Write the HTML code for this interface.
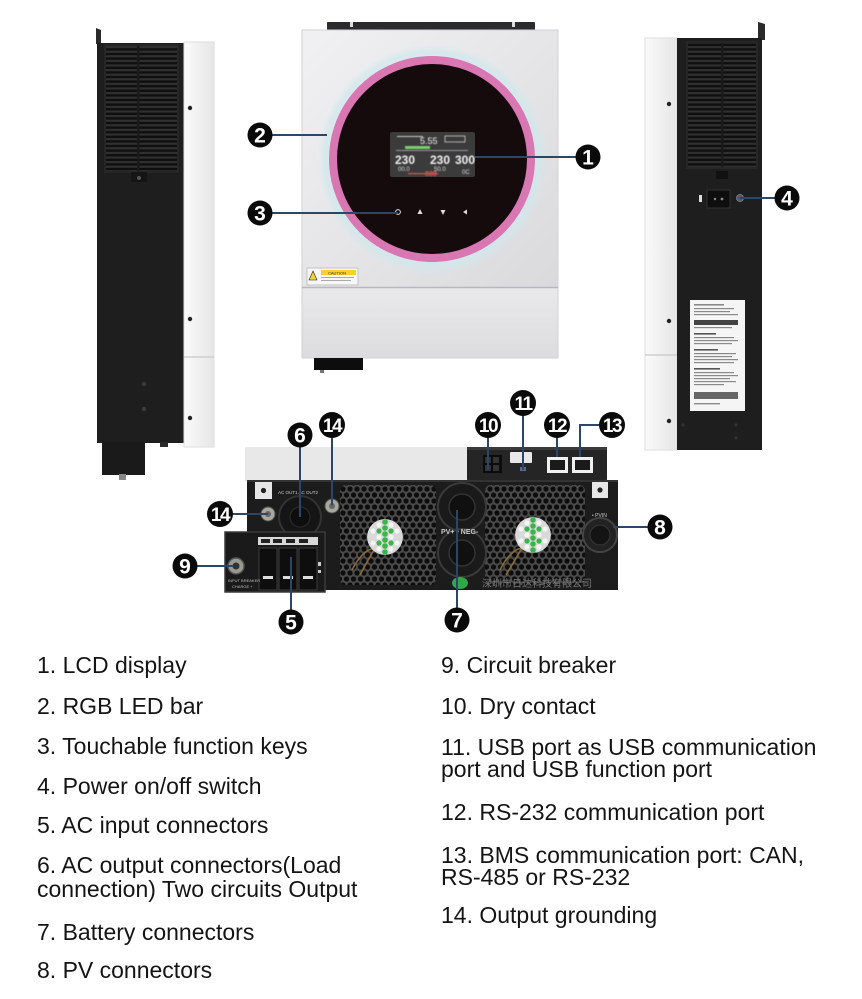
<!DOCTYPE html>
<html><head><meta charset="utf-8">
<style>
html,body{margin:0;padding:0;background:#fff;}
svg{display:block;}
</style></head><body>
<svg width="862" height="999" viewBox="0 0 862 999" xmlns="http://www.w3.org/2000/svg" font-family="'Liberation Sans', Arial, sans-serif">
<defs>
  <pattern id="slats" width="8" height="4.6" patternUnits="userSpaceOnUse">
    <rect width="8" height="4.6" fill="#0f0f0f"/>
    <rect y="0" width="8" height="2.2" fill="#303030"/>
  </pattern>
  <pattern id="hex" width="7" height="12" patternUnits="userSpaceOnUse">
    <rect width="7" height="12" fill="#4a4a4a"/>
    <circle cx="3.5" cy="3" r="2.6" fill="#0d0d0d"/>
    <circle cx="0" cy="9" r="2.6" fill="#0d0d0d"/>
    <circle cx="7" cy="9" r="2.6" fill="#0d0d0d"/>
  </pattern>
  <linearGradient id="front" x1="0" y1="0" x2="1" y2="1">
    <stop offset="0" stop-color="#f1f1f3"/><stop offset="1" stop-color="#dadadd"/>
  </linearGradient>
  <linearGradient id="frontLow" x1="0" y1="0" x2="0" y2="1">
    <stop offset="0" stop-color="#e9e9eb"/><stop offset="1" stop-color="#dcdcdf"/>
  </linearGradient>
  <linearGradient id="white" x1="0" y1="0" x2="1" y2="0">
    <stop offset="0" stop-color="#fafafa"/><stop offset="1" stop-color="#e6e6e6"/>
  </linearGradient>
  <filter id="blur"><feGaussianBlur stdDeviation="3"/></filter>
  <filter id="blur1"><feGaussianBlur stdDeviation="0.6"/></filter>
  <clipPath id="fanL"><circle cx="385" cy="537" r="18"/></clipPath>
  <clipPath id="fanR"><circle cx="533" cy="535" r="18"/></clipPath>
</defs>

<!-- ============ LEFT SIDE VIEW ============ -->
<polygon points="96,28 101,30 101,44 96,44" fill="#2a2a2a"/>
<rect x="97" y="43" width="87" height="400" fill="#1e1e1e"/>
<rect x="105" y="45" width="73" height="127" fill="url(#slats)"/>
<rect x="137" y="45" width="2.5" height="127" fill="#1a1a1a"/>
<rect x="105" y="45" width="73" height="127" fill="none" stroke="#262626" stroke-width="2"/>
<rect x="131" y="172" width="16" height="10" fill="#151515"/>
<circle cx="139" cy="178" r="2" fill="#555"/>
<circle cx="144" cy="384" r="2.2" fill="#3a3a3a"/>
<circle cx="144" cy="409" r="2.2" fill="#3a3a3a"/>
<rect x="184" y="42" width="30" height="405" fill="url(#white)" stroke="#dedede" stroke-width="1"/>
<line x1="184" y1="357" x2="214" y2="357" stroke="#c8c8c8" stroke-width="1.2"/>
<circle cx="190" cy="108" r="2.2" fill="#222"/>
<circle cx="190" cy="319" r="2.2" fill="#222"/>
<circle cx="190" cy="418" r="2.2" fill="#222"/>
<rect x="102" y="442" width="43" height="33" fill="#1a1a1a"/>
<rect x="160" y="442" width="8" height="5" fill="#2a2a2a"/>
<rect x="119" y="474" width="7" height="6" fill="#888"/>

<!-- ============ FRONT VIEW ============ -->
<rect x="327" y="22" width="208" height="10" fill="#2b2b2b" rx="1"/>
<rect x="350" y="22" width="3" height="5" fill="#ddd"/>
<rect x="512" y="22" width="3" height="5" fill="#ddd"/>
<rect x="302" y="30" width="256" height="258" fill="url(#front)"/>
<rect x="302" y="288" width="256" height="70" fill="url(#frontLow)"/>
<rect x="302" y="30" width="256" height="328" fill="none" stroke="#d2d2d4" stroke-width="1"/>
<line x1="302" y1="287.5" x2="558" y2="287.5" stroke="#b8b8bc" stroke-width="1.5"/>
<circle cx="432" cy="159" r="106" fill="none" stroke="#cfe8ec" stroke-width="8" filter="url(#blur)" opacity="0.85"/>
<circle cx="432" cy="159" r="99" fill="#150b0c" stroke="#d977b3" stroke-width="8"/>
<!-- LCD -->
<rect x="390" y="132" width="85" height="45" fill="#3b3b3c" rx="2"/>
<g filter="url(#blur1)">
<rect x="397" y="136" width="26" height="1" fill="#ccc"/>
<text x="420" y="144" font-size="9" fill="#eee">5.55</text>
<rect x="445" y="136" width="20" height="6" fill="none" stroke="#ccc" stroke-width="0.8"/>
<rect x="405" y="146" width="25" height="3" fill="#79d06a"/>
<rect x="396" y="150" width="72" height="1" fill="#999"/>
<text x="395" y="164" font-size="12" fill="#f2f2f2" font-weight="bold">230</text>
<text x="430" y="164" font-size="12" fill="#f2f2f2" font-weight="bold">230</text>
<text x="455" y="164" font-size="12" fill="#f2f2f2" font-weight="bold">300</text>
<text x="398" y="171" font-size="6" fill="#ddd">00.0</text>
<text x="434" y="171" font-size="6" fill="#ddd">50.0</text>
<text x="462" y="174" font-size="6" fill="#ddd">0C</text>
<rect x="408" y="173" width="30" height="1.2" fill="#e25050"/>
<text x="425" y="176" font-size="7" fill="#e25050" font-weight="bold">888</text>
</g>
<!-- touch keys -->
<circle cx="398" cy="212" r="2.4" fill="none" stroke="#ddd" stroke-width="1"/>
<polygon points="420,209 417.5,214 422.5,214" fill="#ddd"/>
<polygon points="443,215 440.5,210 445.5,210" fill="#ddd"/>
<polygon points="463,212 467,209.5 467,214.5" fill="#ddd"/>
<!-- caution label -->
<rect x="307" y="268" width="51" height="17" fill="#f6f6f6" stroke="#bbb" stroke-width="0.8"/>
<polygon points="313,271 309,280 317,280" fill="#f3d22b" stroke="#222" stroke-width="0.6"/>
<rect x="321" y="270" width="35" height="5" fill="#f3d22b"/>
<text x="328" y="274.3" font-size="4" fill="#333">CAUTION</text>
<rect x="321" y="277" width="33" height="1" fill="#aaa"/>
<rect x="321" y="280" width="30" height="1" fill="#aaa"/>
<rect x="314" y="358" width="49" height="12" fill="#0d0d0d"/>
<rect x="320" y="370" width="4" height="3" fill="#777"/>

<!-- ============ RIGHT SIDE VIEW ============ -->
<polygon points="758,22 765,24 765,40 758,40" fill="#2a2a2a"/>
<rect x="645" y="38" width="32" height="412" fill="url(#white)" stroke="#dedede" stroke-width="1"/>
<line x1="645" y1="355" x2="677" y2="355" stroke="#c8c8c8" stroke-width="1.2"/>
<circle cx="669" cy="104" r="2.2" fill="#222"/>
<circle cx="669" cy="321" r="2.2" fill="#222"/>
<circle cx="669" cy="421" r="2.2" fill="#222"/>
<rect x="677" y="38" width="85" height="412" fill="#1e1e1e"/>
<rect x="687" y="42" width="70" height="126" fill="url(#slats)"/>
<rect x="721" y="42" width="2.5" height="126" fill="#1a1a1a"/>
<rect x="687" y="42" width="70" height="126" fill="none" stroke="#262626" stroke-width="2"/>
<rect x="716" y="171" width="12" height="8" fill="#111"/>
<rect x="707" y="190" width="23" height="18" fill="#0e0e0e" stroke="#333" stroke-width="1"/>
<circle cx="715" cy="199" r="1.2" fill="#888"/>
<circle cx="722" cy="199" r="1.4" fill="#888"/>
<rect x="699" y="195" width="3" height="7" fill="#ddd"/>
<circle cx="740" cy="198" r="3.5" fill="#556" stroke="#889" stroke-width="0.8"/>
<!-- spec label -->
<rect x="690" y="300" width="55" height="111" fill="#f5f5f5"/>
<g fill="#8a8a8a">
<rect x="694" y="304" width="30" height="1.6"/>
<rect x="694" y="308" width="40" height="1.2"/>
<rect x="694" y="311" width="36" height="1.2"/>
<rect x="694" y="314" width="44" height="1.2"/>
<rect x="694" y="320" width="44" height="5" fill="#444"/>
<rect x="694" y="327" width="38" height="1.2"/>
<rect x="694" y="333" width="22" height="1.6" fill="#555"/>
<rect x="694" y="337" width="40" height="1.2"/>
<rect x="694" y="340" width="44" height="1.2"/>
<rect x="694" y="343" width="38" height="1.2"/>
<rect x="694" y="349" width="24" height="1.6" fill="#555"/>
<rect x="694" y="353" width="42" height="1.2"/>
<rect x="694" y="356" width="38" height="1.2"/>
<rect x="694" y="359" width="44" height="1.2"/>
<rect x="694" y="362" width="40" height="1.2"/>
<rect x="694" y="368" width="26" height="1.6" fill="#555"/>
<rect x="694" y="372" width="40" height="1.2"/>
<rect x="694" y="375" width="44" height="1.2"/>
<rect x="694" y="378" width="36" height="1.2"/>
<rect x="694" y="381" width="42" height="1.2"/>
<rect x="694" y="384" width="30" height="1.2"/>
<rect x="694" y="392" width="44" height="7" fill="#666"/>
<rect x="694" y="403" width="26" height="1.4"/>
</g>
<circle cx="683" cy="425" r="1.6" fill="#333"/>
<circle cx="736" cy="425" r="1.6" fill="#333"/>
<circle cx="736" cy="438" r="1.6" fill="#333"/>

<!-- ============ BOTTOM VIEW ============ -->
<rect x="245" y="447" width="222" height="34" fill="#e8e8e8"/>
<rect x="467" y="447" width="140" height="34" fill="#252525" rx="2"/>
<rect x="467" y="447" width="140" height="3" fill="#3a3a3a"/>
<!-- dry contact -->
<rect x="483" y="455" width="19" height="18" fill="#0c0c0c"/>
<rect x="485" y="457" width="6" height="6" fill="#333"/>
<rect x="493" y="457" width="6" height="6" fill="#333"/>
<rect x="485" y="465" width="6" height="6" fill="#333"/>
<rect x="493" y="465" width="6" height="6" fill="#333"/>
<!-- USB -->
<rect x="510" y="452" width="22" height="11" fill="#e8e8e8" rx="1"/>
<rect x="520" y="467" width="6" height="4" fill="#5a6a88"/>
<!-- RJ45 -->
<rect x="547" y="457" width="21" height="16" fill="#f0f0f0"/>
<rect x="550" y="460" width="15" height="10" fill="#1a1a1a"/>
<rect x="572" y="457" width="21" height="16" fill="#f0f0f0"/>
<rect x="575" y="460" width="15" height="10" fill="#1a1a1a"/>

<rect x="247" y="480" width="371" height="110" fill="#1c1c1c"/>
<rect x="247" y="480" width="371" height="2" fill="#333"/>
<!-- honeycomb grilles -->
<rect x="340" y="485" width="96" height="100" fill="url(#hex)" rx="6"/>
<rect x="485" y="485" width="100" height="100" fill="url(#hex)" rx="6"/>
<!-- fan wires -->
<path d="M352,570 Q362,550 375,548 Q368,560 360,575" fill="none" stroke="#8a6a3a" stroke-width="1.6"/>
<path d="M500,570 Q510,550 522,548 Q515,560 506,575" fill="none" stroke="#8a6a3a" stroke-width="1.6"/>
<!-- fan centers -->
<g clip-path="url(#fanL)">
<circle cx="385" cy="537" r="18" fill="#d9d9d9"/>
<g fill="#f4f4f4">
<circle cx="373" cy="531" r="2.6"/><circle cx="373" cy="543" r="2.6"/><circle cx="397" cy="531" r="2.6"/><circle cx="397" cy="543" r="2.6"/>
<circle cx="379" cy="525" r="2.6"/><circle cx="379" cy="537" r="2.6"/><circle cx="379" cy="549" r="2.6"/>
<circle cx="391" cy="525" r="2.6"/><circle cx="391" cy="537" r="2.6"/><circle cx="391" cy="549" r="2.6"/>
</g>
<g fill="#3cb44a">
<circle cx="385" cy="522" r="2.8"/><circle cx="385" cy="528" r="2.8"/><circle cx="385" cy="534" r="2.8"/><circle cx="385" cy="540" r="2.8"/><circle cx="385" cy="546" r="2.8"/><circle cx="385" cy="552" r="2.8"/>
<circle cx="379" cy="531" r="2.6"/><circle cx="391" cy="531" r="2.6"/><circle cx="379" cy="543" r="2.6"/><circle cx="391" cy="543" r="2.6"/>
</g>
</g>
<g clip-path="url(#fanR)">
<circle cx="533" cy="535" r="18" fill="#d9d9d9"/>
<g fill="#f4f4f4">
<circle cx="521" cy="529" r="2.6"/><circle cx="521" cy="541" r="2.6"/><circle cx="545" cy="529" r="2.6"/><circle cx="545" cy="541" r="2.6"/>
<circle cx="527" cy="523" r="2.6"/><circle cx="527" cy="535" r="2.6"/><circle cx="527" cy="547" r="2.6"/>
<circle cx="539" cy="523" r="2.6"/><circle cx="539" cy="535" r="2.6"/><circle cx="539" cy="547" r="2.6"/>
</g>
<g fill="#3cb44a">
<circle cx="533" cy="520" r="2.8"/><circle cx="533" cy="526" r="2.8"/><circle cx="533" cy="532" r="2.8"/><circle cx="533" cy="538" r="2.8"/><circle cx="533" cy="544" r="2.8"/><circle cx="533" cy="550" r="2.8"/>
<circle cx="527" cy="529" r="2.6"/><circle cx="539" cy="529" r="2.6"/><circle cx="527" cy="541" r="2.6"/><circle cx="539" cy="541" r="2.6"/>
</g>
</g>
<!-- battery connectors -->
<circle cx="462" cy="507" r="24" fill="#1a1a1a" stroke="#3a3a3a" stroke-width="2"/>
<circle cx="462" cy="507" r="13" fill="#101010" stroke="#333" stroke-width="1.5"/>
<circle cx="462" cy="553" r="24" fill="#1a1a1a" stroke="#3a3a3a" stroke-width="2"/>
<circle cx="462" cy="553" r="13" fill="#101010" stroke="#333" stroke-width="1.5"/>
<text x="441" y="534" font-size="7" fill="#ccc" font-weight="bold">PV+ • NEG-</text>
<ellipse cx="460" cy="583" rx="8" ry="6" fill="#2fa84a"/>
<text x="482" y="587" font-size="10" fill="#777" font-family="'Liberation Sans','Noto Sans CJK SC',sans-serif">深圳市日达科技有限公司</text>
<!-- PV connector -->
<text x="592" y="517" font-size="5" fill="#ccc">• PVIN</text>
<circle cx="600" cy="535" r="17" fill="#222" stroke="#444" stroke-width="2"/>
<circle cx="600" cy="535" r="10" fill="#141414" stroke="#333" stroke-width="1.2"/>
<!-- corner squares -->
<rect x="255" y="482" width="17" height="17" fill="#e6e6e6"/>
<circle cx="263.5" cy="490.5" r="2.6" fill="#222"/>
<rect x="592" y="482" width="16" height="16" fill="#e6e6e6"/>
<circle cx="600" cy="490" r="2.6" fill="#222"/>
<!-- AC out / grounding -->
<text x="278" y="494" font-size="4.5" fill="#ccc">AC OUT1  AC OUT2</text>
<circle cx="300" cy="517" r="21" fill="#151515" stroke="#333" stroke-width="2"/>
<circle cx="300" cy="517" r="10" fill="#0e0e0e" stroke="#2e2e2e" stroke-width="1"/>
<circle cx="268" cy="514" r="7" fill="#a8a8a0" stroke="#555" stroke-width="1"/>
<circle cx="268" cy="514" r="3" fill="#666"/>
<circle cx="332" cy="506" r="7" fill="#a8a8a0" stroke="#555" stroke-width="1"/>
<circle cx="332" cy="506" r="3" fill="#666"/>
<!-- breaker box -->
<rect x="225" y="532" width="100" height="60" fill="#1a1a1a" stroke="#3a3a3a" stroke-width="1.5"/>
<rect x="258" y="537" width="60" height="8" fill="#d8d8d8"/>
<rect x="261" y="539" width="9" height="4" fill="#222"/>
<rect x="273" y="539" width="9" height="4" fill="#222"/>
<rect x="286" y="539" width="9" height="4" fill="#222"/>
<rect x="299" y="539" width="9" height="4" fill="#222"/>
<rect x="259" y="548" width="18" height="42" fill="#0e0e0e" stroke="#3c3c3c" stroke-width="1"/>
<rect x="279" y="548" width="18" height="42" fill="#0e0e0e" stroke="#3c3c3c" stroke-width="1"/>
<rect x="299" y="548" width="18" height="42" fill="#0e0e0e" stroke="#3c3c3c" stroke-width="1"/>
<rect x="263" y="576" width="10" height="3" fill="#ddd"/>
<rect x="283" y="576" width="10" height="3" fill="#ddd"/>
<rect x="303" y="576" width="10" height="3" fill="#ddd"/>
<rect x="318" y="562" width="3" height="4" fill="#ccc"/>
<rect x="318" y="570" width="3" height="3" fill="#ccc"/>
<circle cx="236" cy="566" r="8" fill="#9a9a92" stroke="#555" stroke-width="1.5"/>
<circle cx="236" cy="566" r="3.5" fill="#333"/>
<text x="228" y="582" font-size="4" fill="#bbb">INPUT BREAKER</text>
<text x="232" y="588" font-size="4" fill="#bbb">CHARGE +</text>

<!-- ============ LEADER LINES ============ -->
<g stroke="#2c4666" stroke-width="2" fill="none">
<line x1="270" y1="135" x2="327" y2="135"/>
<line x1="270" y1="213" x2="398" y2="213"/>
<line x1="475" y1="157" x2="578" y2="157"/>
<line x1="740" y1="198" x2="777" y2="198"/>
<line x1="291" y1="557" x2="291" y2="612"/>
<line x1="300" y1="445" x2="300" y2="517"/>
<line x1="457" y1="510" x2="457" y2="610"/>
<line x1="613" y1="527" x2="650" y2="527"/>
<line x1="195" y1="566" x2="233" y2="566"/>
<line x1="488" y1="435" x2="488" y2="470"/>
<line x1="523" y1="413" x2="523" y2="470"/>
<line x1="557" y1="435" x2="557" y2="457"/>
<polyline points="602,425 580,425 580,457"/>
<line x1="230" y1="514" x2="268" y2="514"/>
<line x1="332" y1="435" x2="332" y2="505"/>
</g>

<!-- ============ BADGES ============ -->
<g font-weight="bold" text-anchor="middle" fill="#fff">
<circle cx="588" cy="157" r="12.5" fill="#0a0a0a"/><text x="588" y="164.5" font-size="21">1</text>
<circle cx="260" cy="135" r="12.5" fill="#0a0a0a"/><text x="260" y="142.5" font-size="21">2</text>
<circle cx="260" cy="213" r="12.5" fill="#0a0a0a"/><text x="260" y="220.5" font-size="21">3</text>
<circle cx="787" cy="198" r="12.5" fill="#0a0a0a"/><text x="787" y="205.5" font-size="21">4</text>
<circle cx="291" cy="622" r="12.5" fill="#0a0a0a"/><text x="291" y="629.5" font-size="21">5</text>
<circle cx="300" cy="435" r="12.5" fill="#0a0a0a"/><text x="300" y="442.5" font-size="21">6</text>
<circle cx="457" cy="620" r="12.5" fill="#0a0a0a"/><text x="457" y="627.5" font-size="21">7</text>
<circle cx="660" cy="527" r="12.5" fill="#0a0a0a"/><text x="660" y="534.5" font-size="21">8</text>
<circle cx="185" cy="566" r="12.5" fill="#0a0a0a"/><text x="185" y="573.5" font-size="21">9</text>
<circle cx="488" cy="425" r="13" fill="#0a0a0a"/><text x="488" y="432" font-size="19" letter-spacing="-1.5">10</text>
<circle cx="523" cy="403" r="13" fill="#0a0a0a"/><text x="523" y="410" font-size="19" letter-spacing="-1.5">11</text>
<circle cx="557" cy="425" r="13" fill="#0a0a0a"/><text x="557" y="432" font-size="19" letter-spacing="-1.5">12</text>
<circle cx="612" cy="425" r="13" fill="#0a0a0a"/><text x="612" y="432" font-size="19" letter-spacing="-1.5">13</text>
<circle cx="220" cy="514" r="13" fill="#0a0a0a"/><text x="220" y="521" font-size="19" letter-spacing="-1.5">14</text>
<circle cx="332" cy="425" r="13" fill="#0a0a0a"/><text x="332" y="432" font-size="19" letter-spacing="-1.5">14</text>
</g>

<!-- ============ LEGEND TEXT ============ -->
<g font-size="23" fill="#141414">
<text x="37" y="673">1. LCD display</text>
<text x="37" y="714">2. RGB LED bar</text>
<text x="37" y="754">3. Touchable function keys</text>
<text x="37" y="794">4. Power on/off switch</text>
<text x="37" y="833">5. AC input connectors</text>
<text x="37" y="873">6. AC output connectors(Load</text>
<text x="37" y="897">connection) Two circuits Output</text>
<text x="37" y="940">7. Battery connectors</text>
<text x="37" y="978">8. PV connectors</text>

<text x="441" y="673">9. Circuit breaker</text>
<text x="441" y="714">10. Dry contact</text>
<text x="441" y="755">11. USB port as USB communication</text>
<text x="441" y="777">port and USB function port</text>
<text x="441" y="820">12. RS-232 communication port</text>
<text x="441" y="863">13. BMS communication port: CAN,</text>
<text x="441" y="885">RS-485 or RS-232</text>
<text x="441" y="923">14. Output grounding</text>
</g>
</svg>
</body></html>
